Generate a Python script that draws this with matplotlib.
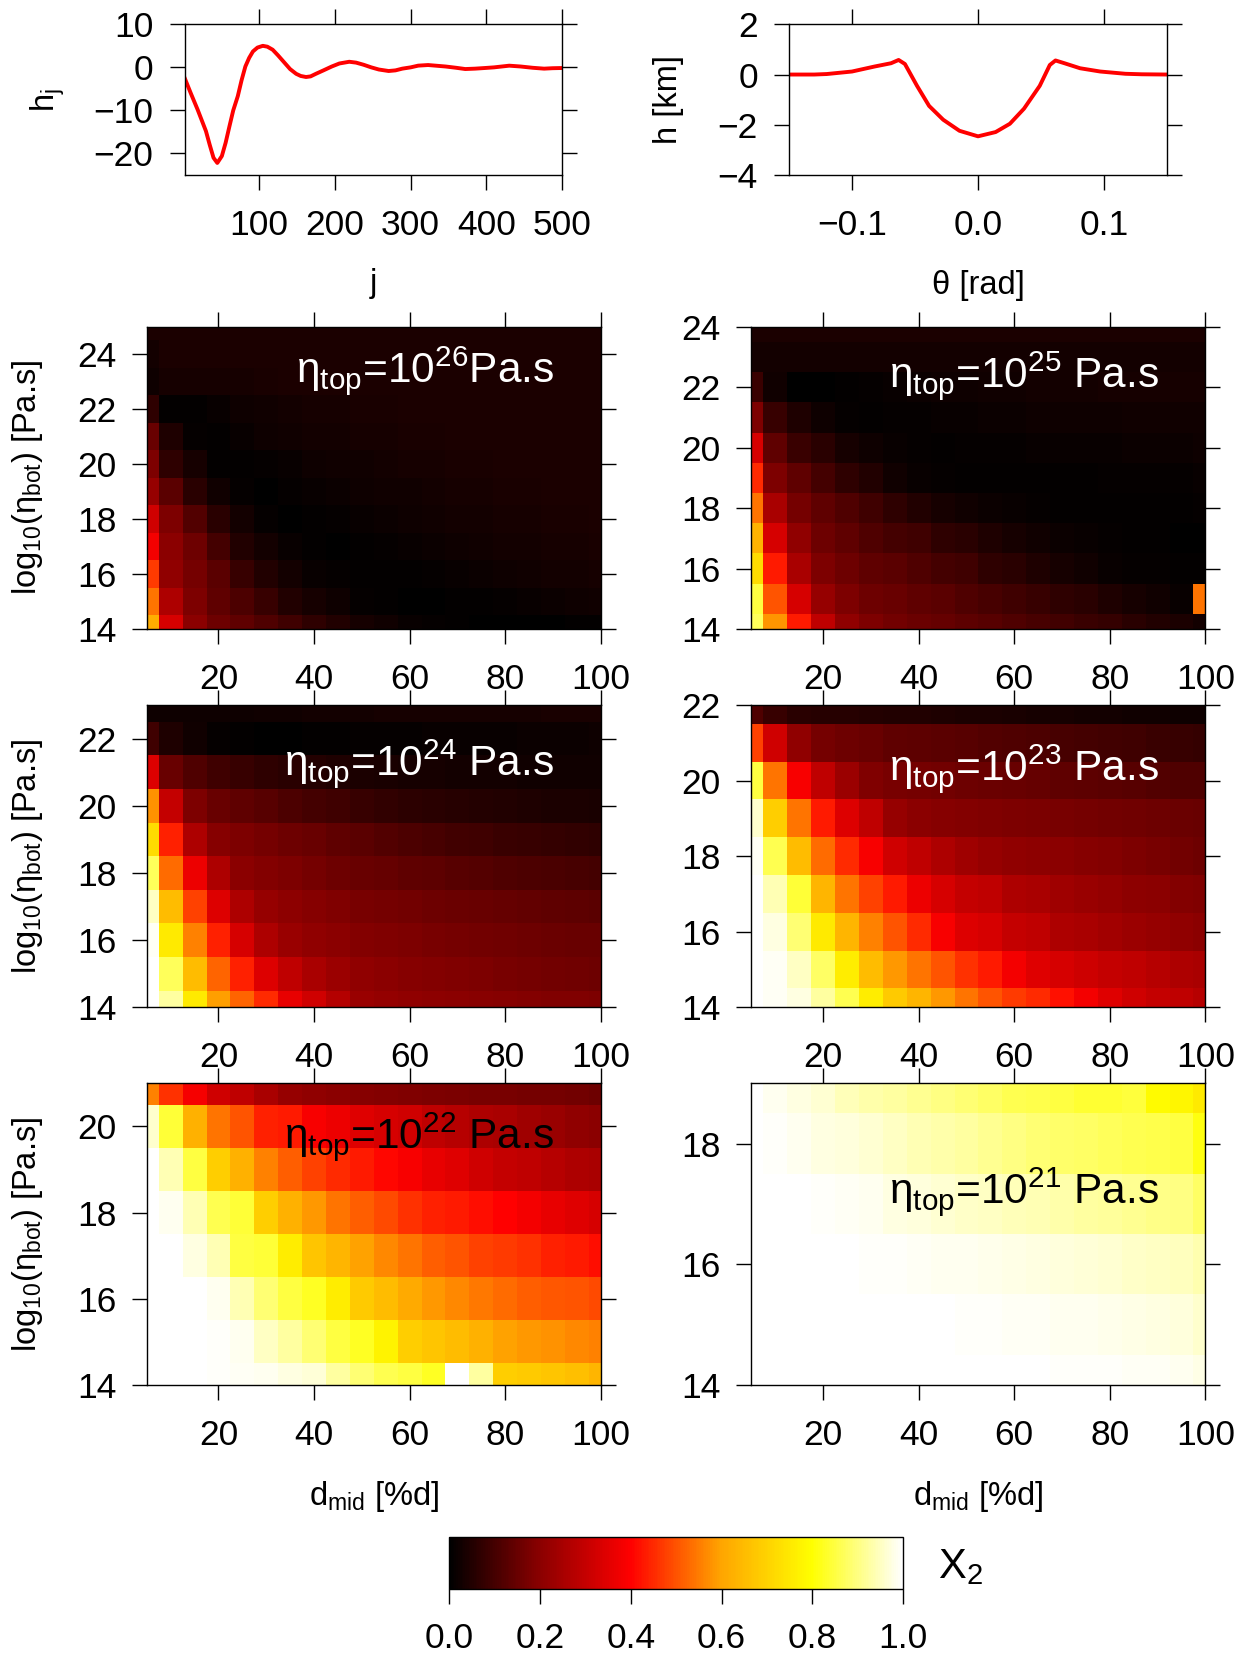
import numpy as np
import matplotlib
matplotlib.use('Agg')
import matplotlib.pyplot as plt
from matplotlib.colors import LinearSegmentedColormap
from matplotlib.cm import ScalarMappable
from matplotlib.colors import Normalize

plt.rcParams['font.family'] = ['Liberation Sans', 'DejaVu Sans']
plt.rcParams['mathtext.default'] = 'regular'

# ---- top left: spectral coefficients h_j
j_vals = [2, 10, 19, 30, 35, 40, 45, 51, 56, 61, 66, 72, 77, 82, 87, 92, 98, 105, 111,
          118, 125, 134, 141, 149, 155, 162, 168, 175, 185, 196, 206, 219, 228, 238, 248,
          258, 271, 280, 289, 300, 310, 323, 346, 360, 372, 385, 398, 410, 430, 445, 461,
          476, 487, 500]
hj_vals = [-2.5, -6.0, -9.8, -14.8, -18.0, -21.0, -22.2, -20.6, -17.5, -13.7, -10.0, -6.7,
           -3.0, 0.2, 2.2, 3.7, 4.6, 5.0, 4.8, 4.1, 2.8, 1.0, -0.4, -1.5, -2.0, -2.24, -2.1,
           -1.5, -0.7, 0.2, 0.9, 1.3, 1.1, 0.6, 0.0, -0.5, -0.85, -0.7, -0.3, 0.0, 0.4, 0.54,
           0.2, -0.1, -0.39, -0.3, -0.15, 0.0, 0.39, 0.2, -0.1, -0.3, -0.2, -0.15]

# ---- top right: topography profile
theta_vals = [-0.15, -0.13, -0.12, -0.1, -0.082, -0.069, -0.063, -0.058, -0.0484, -0.0388,
              -0.0276, -0.0147, 0.0, 0.014, 0.0253, 0.0365, 0.049, 0.057, 0.0615, 0.0686,
              0.081, 0.097, 0.117, 0.13, 0.15]
h_vals = [0.0, 0.0, 0.02, 0.12, 0.32, 0.45, 0.58, 0.42, -0.45, -1.25, -1.8, -2.24, -2.46,
          -2.29, -1.96, -1.36, -0.45, 0.38, 0.56, 0.45, 0.25, 0.12, 0.03, 0.01, 0.0]

# ---- misfit grids: x = d_mid [%d], y = log10(eta_bot); rows listed from top to bottom
d_mid = [5, 10, 15, 20, 25, 30, 35, 40, 45, 50, 55, 60, 65, 70, 75, 80, 85, 90, 95, 100]

ybot_26 = [25, 24, 23, 22, 21, 20, 19, 18, 17, 16, 15, 14]
x2_26 = [
    [0.04, 0.04, 0.04, 0.04, 0.04, 0.04, 0.04, 0.04, 0.04, 0.04, 0.04, 0.04, 0.04, 0.04, 0.04, 0.04, 0.04, 0.04, 0.04, 0.04],
    [0.03, 0.04, 0.04, 0.04, 0.04, 0.04, 0.04, 0.04, 0.04, 0.04, 0.04, 0.04, 0.04, 0.04, 0.04, 0.04, 0.04, 0.04, 0.04, 0.04],
    [0.02, 0.035, 0.035, 0.035, 0.035, 0.038, 0.04, 0.04, 0.04, 0.04, 0.04, 0.04, 0.04, 0.04, 0.04, 0.04, 0.04, 0.04, 0.04, 0.04],
    [0.07, 0.005, 0.005, 0.015, 0.02, 0.025, 0.03, 0.032, 0.035, 0.037, 0.038, 0.04, 0.04, 0.04, 0.04, 0.04, 0.04, 0.04, 0.04, 0.04],
    [0.15, 0.045, 0.01, 0.005, 0.015, 0.02, 0.025, 0.028, 0.03, 0.032, 0.034, 0.036, 0.038, 0.04, 0.04, 0.04, 0.04, 0.04, 0.04, 0.04],
    [0.18, 0.07, 0.035, 0.005, 0.005, 0.01, 0.015, 0.02, 0.024, 0.027, 0.03, 0.032, 0.034, 0.036, 0.038, 0.04, 0.04, 0.04, 0.04, 0.04],
    [0.22, 0.13, 0.06, 0.025, 0.01, 0.003, 0.008, 0.012, 0.016, 0.02, 0.024, 0.027, 0.03, 0.032, 0.034, 0.036, 0.038, 0.04, 0.04, 0.04],
    [0.32, 0.18, 0.12, 0.06, 0.03, 0.01, 0.003, 0.006, 0.01, 0.014, 0.018, 0.022, 0.025, 0.028, 0.03, 0.032, 0.034, 0.036, 0.038, 0.04],
    [0.38, 0.2, 0.16, 0.1, 0.05, 0.03, 0.015, 0.005, 0.003, 0.006, 0.01, 0.014, 0.018, 0.022, 0.025, 0.028, 0.03, 0.032, 0.034, 0.036],
    [0.47, 0.21, 0.17, 0.13, 0.08, 0.05, 0.03, 0.015, 0.008, 0.004, 0.004, 0.007, 0.01, 0.014, 0.018, 0.022, 0.025, 0.028, 0.03, 0.032],
    [0.54, 0.26, 0.18, 0.14, 0.11, 0.08, 0.05, 0.035, 0.02, 0.01, 0.004, 0.002, 0.002, 0.004, 0.007, 0.01, 0.014, 0.018, 0.022, 0.025],
    [0.62, 0.33, 0.2, 0.16, 0.14, 0.115, 0.09, 0.07, 0.05, 0.035, 0.025, 0.015, 0.008, 0.004, 0.002, 0.002, 0.002, 0.003, 0.004, 0.005],
]

ybot_25 = [24, 23, 22, 21, 20, 19, 18, 17, 16, 15, 14]
x2_25 = [
    [0.04, 0.04, 0.04, 0.04, 0.04, 0.04, 0.04, 0.04, 0.04, 0.04, 0.04, 0.04, 0.04, 0.04, 0.04, 0.04, 0.04, 0.04, 0.04, 0.04],
    [0.03, 0.03, 0.03, 0.03, 0.03, 0.03, 0.03, 0.03, 0.03, 0.03, 0.03, 0.03, 0.03, 0.03, 0.03, 0.03, 0.03, 0.03, 0.03, 0.03],
    [0.085, 0.025, 0.0, 0.0, 0.006, 0.01, 0.014, 0.018, 0.02, 0.022, 0.024, 0.026, 0.028, 0.03, 0.03, 0.032, 0.033, 0.034, 0.035, 0.035],
    [0.18, 0.08, 0.045, 0.02, 0.01, 0.005, 0.008, 0.01, 0.012, 0.014, 0.016, 0.018, 0.02, 0.021, 0.022, 0.023, 0.024, 0.025, 0.025, 0.025],
    [0.33, 0.14, 0.085, 0.06, 0.035, 0.02, 0.012, 0.008, 0.006, 0.008, 0.01, 0.011, 0.012, 0.013, 0.014, 0.015, 0.016, 0.017, 0.018, 0.02],
    [0.45, 0.18, 0.14, 0.1, 0.07, 0.05, 0.025, 0.015, 0.01, 0.006, 0.004, 0.004, 0.005, 0.006, 0.007, 0.008, 0.009, 0.01, 0.011, 0.012],
    [0.54, 0.25, 0.17, 0.14, 0.115, 0.09, 0.07, 0.05, 0.035, 0.025, 0.018, 0.012, 0.008, 0.005, 0.004, 0.004, 0.005, 0.006, 0.007, 0.008],
    [0.63, 0.33, 0.21, 0.16, 0.14, 0.115, 0.1, 0.09, 0.07, 0.06, 0.045, 0.035, 0.025, 0.018, 0.012, 0.008, 0.005, 0.004, 0.003, 0.003],
    [0.72, 0.43, 0.25, 0.18, 0.16, 0.14, 0.13, 0.115, 0.1, 0.09, 0.07, 0.06, 0.045, 0.035, 0.025, 0.015, 0.01, 0.008, 0.006, 0.005],
    [0.85, 0.5, 0.33, 0.22, 0.18, 0.16, 0.15, 0.14, 0.13, 0.115, 0.105, 0.09, 0.08, 0.07, 0.06, 0.045, 0.035, 0.025, 0.015, 0.54],
    [0.87, 0.58, 0.43, 0.29, 0.21, 0.18, 0.165, 0.155, 0.145, 0.135, 0.125, 0.115, 0.105, 0.095, 0.085, 0.075, 0.06, 0.05, 0.04, 0.03],
]

ybot_24 = [23, 22, 21, 20, 19, 18, 17, 16, 15, 14]
x2_24 = [
    [0.02, 0.02, 0.02, 0.02, 0.022, 0.024, 0.026, 0.028, 0.03, 0.03, 0.032, 0.032, 0.034, 0.034, 0.035, 0.035, 0.035, 0.036, 0.036, 0.036],
    [0.09, 0.045, 0.025, 0.01, 0.005, 0.002, 0.002, 0.004, 0.006, 0.008, 0.01, 0.011, 0.012, 0.013, 0.014, 0.015, 0.016, 0.017, 0.018, 0.02],
    [0.34, 0.15, 0.115, 0.09, 0.08, 0.07, 0.06, 0.052, 0.046, 0.042, 0.038, 0.035, 0.033, 0.031, 0.03, 0.028, 0.027, 0.026, 0.025, 0.024],
    [0.575, 0.3, 0.18, 0.15, 0.14, 0.125, 0.11, 0.1, 0.09, 0.08, 0.072, 0.066, 0.06, 0.056, 0.052, 0.048, 0.045, 0.042, 0.04, 0.038],
    [0.72, 0.44, 0.26, 0.195, 0.18, 0.17, 0.16, 0.15, 0.14, 0.13, 0.12, 0.112, 0.104, 0.097, 0.09, 0.085, 0.08, 0.075, 0.072, 0.07],
    [0.87, 0.53, 0.37, 0.26, 0.2, 0.19, 0.18, 0.17, 0.16, 0.15, 0.145, 0.14, 0.134, 0.128, 0.122, 0.117, 0.112, 0.108, 0.104, 0.1],
    [0.95, 0.65, 0.48, 0.34, 0.26, 0.22, 0.205, 0.195, 0.185, 0.175, 0.17, 0.165, 0.16, 0.155, 0.15, 0.146, 0.142, 0.138, 0.134, 0.13],
    [0.99, 0.75, 0.555, 0.44, 0.33, 0.26, 0.225, 0.21, 0.2, 0.19, 0.185, 0.18, 0.175, 0.17, 0.166, 0.162, 0.158, 0.155, 0.152, 0.15],
    [1.0, 0.87, 0.65, 0.52, 0.44, 0.34, 0.29, 0.25, 0.23, 0.21, 0.2, 0.195, 0.19, 0.185, 0.18, 0.175, 0.17, 0.167, 0.164, 0.16],
    [1.0, 0.925, 0.75, 0.59, 0.52, 0.45, 0.36, 0.32, 0.27, 0.225, 0.215, 0.21, 0.205, 0.2, 0.197, 0.194, 0.19, 0.187, 0.184, 0.18],
]

ybot_23 = [22, 21, 20, 19, 18, 17, 16, 15, 14]
x2_23 = [
    [0.115, 0.08, 0.06, 0.058, 0.055, 0.052, 0.05, 0.047, 0.045, 0.042, 0.04, 0.038, 0.035, 0.033, 0.03, 0.028, 0.026, 0.024, 0.022, 0.02],
    [0.48, 0.32, 0.21, 0.17, 0.16, 0.15, 0.14, 0.135, 0.13, 0.125, 0.12, 0.115, 0.11, 0.105, 0.1, 0.095, 0.09, 0.085, 0.08, 0.075],
    [0.85, 0.54, 0.39, 0.29, 0.23, 0.185, 0.175, 0.17, 0.165, 0.16, 0.155, 0.15, 0.145, 0.14, 0.135, 0.13, 0.125, 0.12, 0.117, 0.115],
    [0.96, 0.69, 0.54, 0.43, 0.34, 0.29, 0.22, 0.2, 0.195, 0.19, 0.186, 0.182, 0.178, 0.174, 0.17, 0.166, 0.162, 0.158, 0.155, 0.152],
    [0.99, 0.86, 0.65, 0.53, 0.45, 0.39, 0.32, 0.29, 0.26, 0.235, 0.22, 0.21, 0.205, 0.2, 0.195, 0.19, 0.18, 0.172, 0.166, 0.16],
    [1.0, 0.94, 0.84, 0.635, 0.54, 0.48, 0.43, 0.37, 0.33, 0.3, 0.29, 0.26, 0.25, 0.235, 0.225, 0.215, 0.205, 0.2, 0.19, 0.185],
    [1.0, 0.975, 0.89, 0.75, 0.635, 0.555, 0.5, 0.45, 0.39, 0.34, 0.33, 0.3, 0.29, 0.26, 0.25, 0.24, 0.23, 0.22, 0.21, 0.2],
    [1.0, 0.99, 0.95, 0.875, 0.76, 0.65, 0.585, 0.54, 0.5, 0.46, 0.43, 0.38, 0.345, 0.33, 0.315, 0.3, 0.29, 0.275, 0.26, 0.25],
    [1.0, 0.99, 0.975, 0.925, 0.86, 0.76, 0.68, 0.635, 0.585, 0.54, 0.5, 0.47, 0.45, 0.42, 0.38, 0.345, 0.32, 0.3, 0.29, 0.275],
]

ybot_22 = [21, 20, 19, 18, 17, 16, 15, 14]
x2_22 = [
    [0.555, 0.46, 0.385, 0.32, 0.29, 0.25, 0.22, 0.21, 0.2, 0.195, 0.19, 0.185, 0.18, 0.178, 0.175, 0.172, 0.17, 0.168, 0.165, 0.16],
    [0.96, 0.84, 0.625, 0.54, 0.5, 0.44, 0.43, 0.39, 0.37, 0.345, 0.33, 0.32, 0.29, 0.275, 0.26, 0.25, 0.235, 0.225, 0.21, 0.2],
    [1.0, 0.94, 0.85, 0.69, 0.625, 0.555, 0.515, 0.48, 0.45, 0.43, 0.41, 0.39, 0.36, 0.345, 0.32, 0.3, 0.29, 0.275, 0.26, 0.25],
    [1.0, 0.985, 0.94, 0.86, 0.84, 0.69, 0.625, 0.585, 0.54, 0.515, 0.49, 0.46, 0.44, 0.43, 0.415, 0.4, 0.38, 0.36, 0.345, 0.33],
    [1.0, 1.0, 0.975, 0.94, 0.85, 0.84, 0.76, 0.67, 0.635, 0.595, 0.565, 0.54, 0.515, 0.5, 0.48, 0.47, 0.46, 0.44, 0.43, 0.415],
    [1.0, 1.0, 1.0, 0.985, 0.94, 0.89, 0.85, 0.825, 0.76, 0.68, 0.65, 0.61, 0.585, 0.565, 0.545, 0.53, 0.515, 0.505, 0.5, 0.49],
    [1.0, 1.0, 1.0, 0.995, 0.985, 0.95, 0.925, 0.89, 0.85, 0.825, 0.77, 0.69, 0.67, 0.65, 0.625, 0.595, 0.585, 0.575, 0.565, 0.555],
    [1.0, 1.0, 1.0, 0.995, 0.99, 0.985, 0.975, 0.965, 0.925, 0.89, 0.86, 0.85, 0.825, 1.0, 0.925, 0.69, 0.68, 0.67, 0.66, 0.635],
]

ybot_21 = [19, 18, 17, 16, 15, 14]
x2_21 = [
    [1.0, 0.988, 0.976, 0.963, 0.944, 0.932, 0.925, 0.913, 0.9, 0.888, 0.875, 0.863, 0.856, 0.85, 0.838, 0.838, 0.844, 0.79, 0.78, 0.75],
    [1.0, 0.995, 0.988, 0.976, 0.97, 0.963, 0.95, 0.938, 0.932, 0.925, 0.913, 0.9, 0.888, 0.882, 0.875, 0.869, 0.863, 0.856, 0.85, 0.81],
    [1.0, 1.0, 0.998, 0.995, 0.99, 0.985, 0.976, 0.97, 0.963, 0.957, 0.95, 0.944, 0.938, 0.932, 0.925, 0.92, 0.913, 0.906, 0.9, 0.875],
    [1.0, 1.0, 1.0, 1.0, 0.998, 0.996, 0.994, 0.99, 0.988, 0.985, 0.982, 0.978, 0.974, 0.97, 0.966, 0.962, 0.957, 0.952, 0.946, 0.935],
    [1.0, 1.0, 1.0, 1.0, 1.0, 1.0, 1.0, 1.0, 0.998, 0.996, 0.994, 0.992, 0.99, 0.988, 0.985, 0.982, 0.978, 0.974, 0.97, 0.96],
    [1.0, 1.0, 1.0, 1.0, 1.0, 1.0, 1.0, 1.0, 1.0, 1.0, 0.999, 0.998, 0.997, 0.996, 0.995, 0.994, 0.992, 0.99, 0.988, 0.98],
]

cmap = LinearSegmentedColormap.from_list(
    'misfit', ['black', '#8B0000', 'red', 'orange', 'yellow', 'white'])

W, H = 1254, 1654
fig = plt.figure(figsize=(W / 100, H / 100), dpi=100)

TICK_FS = 25.5
LAB_FS = 23.5


def add_px_axes(left, top, right, bottom):
    return fig.add_axes([left / W, 1 - bottom / H, (right - left) / W, (bottom - top) / H])


def style_box(ax, ypad=11):
    ax.tick_params(direction='out', length=10.5, width=1.0, top=True, right=True,
                   labeltop=False, labelright=False, labelsize=TICK_FS)
    ax.tick_params(axis='x', pad=14)
    ax.tick_params(axis='y', pad=ypad)
    for s in ax.spines.values():
        s.set_linewidth(1.0)


# ---- line plots
ax = add_px_axes(184.7, 24.3, 562.3, 175)
ax.plot(j_vals, hj_vals, color='red', lw=2.8)
ax.set_xlim(2, 500)
ax.set_ylim(-25, 10)
ax.set_xticks([100, 200, 300, 400, 500])
ax.set_yticks([10, 0, -10, -20])
ax.set_yticklabels(['10', '0', '\u221210', '\u221220'])
style_box(ax, ypad=12)
ax.text(-0.364, 0.5, 'h$_j$', rotation=90, ha='center', va='center',
        fontsize=LAB_FS, transform=ax.transAxes)
ax.text(0.5, -0.717, 'j', ha='center', va='center', fontsize=LAB_FS, transform=ax.transAxes)

ax = add_px_axes(789, 24.3, 1167, 175)
ax.plot(theta_vals, h_vals, color='red', lw=2.8)
ax.set_xlim(-0.15, 0.15)
ax.set_ylim(-4, 2)
ax.set_xticks([-0.1, 0.0, 0.1])
ax.set_xticklabels(['\u22120.1', '0.0', '0.1'])
ax.set_yticks([2, 0, -2, -4])
ax.set_yticklabels(['2', '0', '\u22122', '\u22124'])
style_box(ax, ypad=12)
ax.text(-0.319, 0.5, 'h [km]', rotation=90, ha='center', va='center',
        fontsize=LAB_FS, transform=ax.transAxes)
ax.text(0.5, -0.73, '\u03b8 [rad]', ha='center', va='center', fontsize=LAB_FS,
        transform=ax.transAxes)

# ---- heat maps
panels = [
    (146.8, 326.7, 600.8, 629.0, ybot_26, x2_26, '26', '', 'white', 0.818, True),
    (751.4, 326.7, 1205.4, 629.0, ybot_25, x2_25, '25', ' ', 'white', 0.800, False),
    (146.8, 705.0, 600.8, 1007.3, ybot_24, x2_24, '24', ' ', 'white', 0.768, True),
    (751.4, 705.0, 1205.4, 1007.3, ybot_23, x2_23, '23', ' ', 'white', 0.752, False),
    (146.8, 1083.3, 600.8, 1385.0, ybot_22, x2_22, '22', ' ', 'black', 0.785, True),
    (751.4, 1083.3, 1205.4, 1385.0, ybot_21, x2_21, '21', ' ', 'black', 0.602, False),
]

for i, (l, t, r, b, yv, z, ex, sp, tc, ty, left_col) in enumerate(panels):
    ax = add_px_axes(l, t, r, b)
    zz = np.array(z)[::-1]
    yy = np.array(yv)[::-1]
    ax.pcolormesh(d_mid, yy, zz, cmap=cmap, vmin=0, vmax=1, shading='nearest')
    ax.set_xlim(5, 100)
    ax.set_ylim(14, max(yv))
    ax.set_xticks([20, 40, 60, 80, 100])
    ax.set_yticks(list(range(14, max(yv) + 1, 2)))
    style_box(ax, ypad=11 if left_col else 11.5)
    ax.text(0.897, ty, '\u03b7$_{top}$=10$^{' + ex + '}$' + sp + 'Pa.s', color=tc,
            fontsize=30.5, ha='right', va='baseline', transform=ax.transAxes)
    if left_col:
        ax.text(-0.262, 0.5, 'log$_{10}$(\u03b7$_{bot}$) [Pa.s]', rotation=90,
                ha='center', va='center', fontsize=LAB_FS, transform=ax.transAxes)
    if i >= 4:
        ax.text(0.5, -0.37, 'd$_{mid}$ [%d]', ha='center', va='center', fontsize=LAB_FS,
                transform=ax.transAxes)

# ---- colour bar
cax = add_px_axes(449.1, 1536.7, 903.1, 1589.3)
sm = ScalarMappable(norm=Normalize(0, 1), cmap=cmap)
cb = fig.colorbar(sm, cax=cax, orientation='horizontal')
cb.set_ticks([0.0, 0.2, 0.4, 0.6, 0.8, 1.0])
cb.set_ticklabels(['0.0', '0.2', '0.4', '0.6', '0.8', '1.0'])
cax.tick_params(direction='out', length=10.5, width=1.0, labelsize=TICK_FS, pad=13)
cb.outline.set_linewidth(1.0)
fig.text(938 / W, 1 - 1567 / H, 'X$_2$', fontsize=30, ha='left', va='center')

fig.savefig('out.png', dpi=100)
